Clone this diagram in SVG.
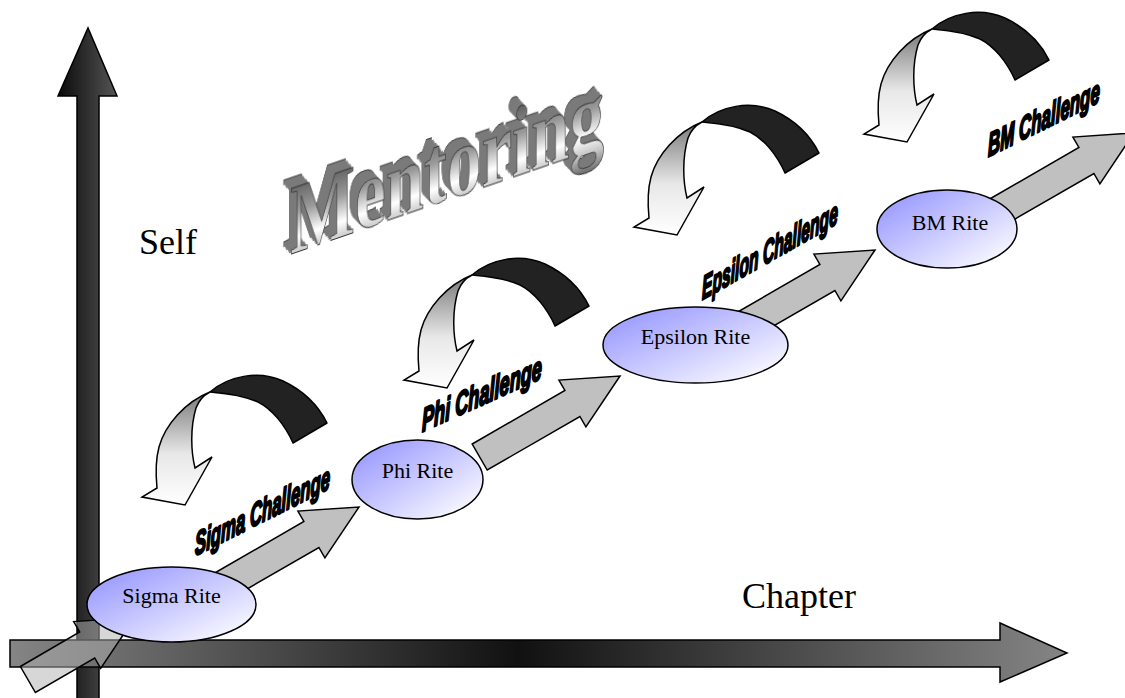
<svg xmlns="http://www.w3.org/2000/svg" width="1125" height="698" viewBox="0 0 1125 698">
<style>
 .ax{stroke:#000;stroke-width:1.5;stroke-linejoin:miter}
 .garrow{fill:#c0c0c0;stroke:#000;stroke-width:1.5;stroke-linejoin:miter}
 .rite{fill:url(#riteGrad);stroke:#000;stroke-width:1.5}
 .rt{font-family:"Liberation Serif","Times New Roman",serif;font-size:22px;fill:#000;text-anchor:middle}
 .ch{font-family:"Liberation Sans",Arial,sans-serif;font-weight:bold;font-style:italic;font-size:33px;fill:#000;stroke:#000;stroke-width:2.4;stroke-linejoin:round}
 .lbl{font-family:"Liberation Serif","Times New Roman",serif;font-size:36px;fill:#000}
 .dark{fill:#222;stroke:#000;stroke-width:1.5;stroke-linejoin:round}
 .light{fill:url(#curlGrad);stroke:#000;stroke-width:1.5;stroke-linejoin:miter}
</style>
<defs>
 <linearGradient id="vAxisGrad" x1="0" y1="0" x2="1" y2="0">
  <stop offset="0" stop-color="#0a0a0a"/><stop offset="1" stop-color="#555"/>
 </linearGradient>
 <linearGradient id="hAxisGrad" gradientUnits="userSpaceOnUse" x1="10" y1="0" x2="1067" y2="0">
  <stop offset="0" stop-color="#858585"/><stop offset="0.48" stop-color="#111"/><stop offset="1" stop-color="#858585"/>
 </linearGradient>
 <linearGradient id="riteGrad" x1="0" y1="0.15" x2="0.9" y2="1">
  <stop offset="0" stop-color="#9797ff"/><stop offset="1" stop-color="#ffffff"/>
 </linearGradient>
 <linearGradient id="curlGrad" x1="0" y1="0" x2="0" y2="1">
  <stop offset="0" stop-color="#777"/><stop offset="0.55" stop-color="#e8e8e8"/><stop offset="1" stop-color="#fff"/>
 </linearGradient>
 <linearGradient id="metal" gradientUnits="userSpaceOnUse" x1="0" y1="-75" x2="0" y2="22">
  <stop offset="0" stop-color="#555"/><stop offset="0.35" stop-color="#9a9a9a"/><stop offset="0.62" stop-color="#fff"/><stop offset="0.8" stop-color="#c4c4c4"/><stop offset="1" stop-color="#666"/>
 </linearGradient>
 <filter id="extrude" x="-0.1" y="-0.3" width="1.2" height="1.6" color-interpolation-filters="sRGB">
  <feFlood flood-color="#7a7a7a" result="c"/>
  <feComposite in="c" in2="SourceAlpha" operator="in" result="d"/>
  <feOffset in="d" dx="-1.5" dy="-2" result="o1"/>
  <feOffset in="d" dx="-3" dy="-4" result="o2"/>
  <feOffset in="d" dx="-4.5" dy="-6" result="o3"/>
  <feOffset in="d" dx="-6" dy="-8" result="o4"/>
  <feOffset in="d" dx="-7.5" dy="-10" result="o5"/>
  <feFlood flood-color="#3a3a3a" result="c2"/>
  <feComposite in="c2" in2="SourceAlpha" operator="in" result="d2"/>
  <feOffset in="d2" dx="-8" dy="-10.6" result="o6"/>
  <feMerge><feMergeNode in="o6"/><feMergeNode in="o5"/><feMergeNode in="o4"/><feMergeNode in="o3"/><feMergeNode in="o2"/><feMergeNode in="o1"/><feMergeNode in="SourceGraphic"/></feMerge>
 </filter>
 <g id="curl">
  <path class="dark" d="M210,392 C228,376 258,370 283,381 C302,390 318,405 327,423 L293,443 C285,425 272,409 258,402 C240,394 222,393 210,392 Z"/>
  <path class="light" d="M210,392 C185,402 165,425 159,447 C155,462 156,478 157,488 L142,497 L185,505 L212,457 L195,468 C191,452 190,428 196,408 C199,400 204,395 210,392 Z"/>
 </g>
</defs>

<g id="axes">
 <path id="self-axis" class="ax" fill="url(#vAxisGrad)" d="M77,700 L77,96 L58,96 L88,28 L117,96 L99,96 L99,700 Z"/>
 <path id="chapter-axis" class="ax" fill="url(#hAxisGrad)" d="M10,640 L1000,640 L1000,623 L1067,653 L1000,682 L1000,667 L10,667 Z"/>
</g>

<g id="connectors">
 <polygon class="garrow" style="fill:#b0b0b0;fill-opacity:0.5" points="20.4,666.5 79.7,632 73.7,621.6 134.8,617.5 100.7,668.4 94.7,658 35.4,692.5"/>
 <polygon class="garrow" points="191.3,586.5 303.9,521.5 297.9,511.1 359,507 324.9,557.9 318.9,547.5 206.3,612.5"/>
 <polygon class="garrow" points="472.2,444 564.9,390.5 558.9,380.1 620,376 585.9,426.9 579.9,416.5 487.2,470"/>
 <polygon class="garrow" points="724.6,319.5 819.9,264.5 813.9,254.1 875,250 840.9,300.9 834.9,290.5 739.6,345.5"/>
 <polygon class="garrow" points="979.3,205 1078.9,147.5 1072.9,137.1 1134,133 1099.9,183.9 1093.9,173.5 994.3,231"/>
</g>

<g id="sigma-rite">
 <ellipse class="rite" cx="171.5" cy="604.5" rx="84.5" ry="37.5"/>
 <text class="rt" x="171.5" y="603">Sigma Rite</text>
</g>
<g id="phi-rite">
 <ellipse class="rite" cx="417.5" cy="479.5" rx="65.5" ry="39.5"/>
 <text class="rt" x="417.5" y="478">Phi Rite</text>
</g>
<g id="epsilon-rite">
 <ellipse class="rite" cx="695.5" cy="345" rx="92.5" ry="38"/>
 <text class="rt" x="695.5" y="344">Epsilon Rite</text>
</g>
<g id="bm-rite">
 <ellipse class="rite" cx="947" cy="229" rx="70" ry="39"/>
 <text class="rt" x="950" y="230">BM Rite</text>
</g>

<g id="curls">
 <use href="#curl"/>
 <use href="#curl" transform="translate(262,-117)"/>
 <use href="#curl" transform="translate(492,-270)"/>
 <use href="#curl" transform="translate(722,-363)"/>
</g>

<g id="challenges">
 <text class="ch" transform="translate(195,556) skewY(-26.7) scale(0.508,1)">Sigma Challenge</text>
 <text class="ch" transform="translate(422,432) skewY(-24.2) scale(0.55,1)">Phi Challenge</text>
 <text class="ch" transform="translate(702,300) skewY(-29.5) scale(0.475,1)">Epsilon Challenge</text>
 <text class="ch" transform="translate(988,157) skewY(-26.4) scale(0.513,1)">BM Challenge</text>
</g>

<g id="title">
 <g transform="translate(290,254) skewY(-19)">
  <text x="0" y="0" textLength="314" lengthAdjust="spacingAndGlyphs" font-family="'Liberation Serif','Times New Roman',serif" font-weight="bold" font-size="100" fill="url(#metal)" stroke="#333" stroke-width="0.8" filter="url(#extrude)">Mentoring</text>
 </g>
</g>

<g id="labels">
 <text class="lbl" x="139" y="254">Self</text>
 <text class="lbl" x="742" y="608">Chapter</text>
</g>
</svg>
